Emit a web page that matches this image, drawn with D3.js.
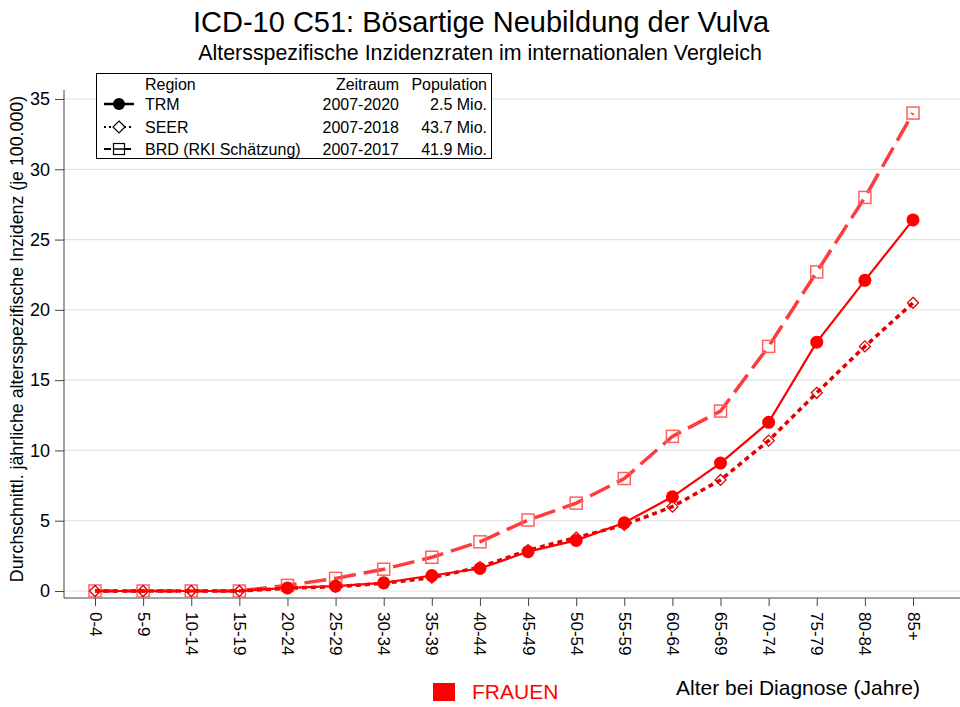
<!DOCTYPE html>
<html>
<head>
<meta charset="utf-8">
<script src="https://cdn.jsdelivr.net/npm/d3@7"></script>
<style>
  body { margin: 0; background: #fff; }
  svg { font-family: "Liberation Sans", Arial, sans-serif; }
</style>
</head>
<body>
<svg id="chart" width="960" height="707"></svg>
<script>
// data
var ageGroups = ["0-4","5-9","10-14","15-19","20-24","25-29","30-34","35-39","40-44",
                 "45-49","50-54","55-59","60-64","65-69","70-74","75-79","80-84","85+"];
var trmValues  = [0, 0, 0, 0, 0.22, 0.35, 0.58, 1.1, 1.6, 2.8, 3.6, 4.85, 6.7, 9.1, 12.0, 17.7, 22.1, 26.4];
var seerValues = [0, 0, 0, 0, 0.2, 0.3, 0.55, 0.95, 1.7, 2.9, 3.8, 4.7, 6.0, 7.9, 10.7, 14.1, 17.4, 20.5];
var brdValues  = [0, 0, 0, 0, 0.4, 0.9, 1.55, 2.4, 3.5, 5.05, 6.25, 8.0, 11.0, 12.8, 17.4, 22.7, 28.0, 34.0];
var yTicks = [0, 5, 10, 15, 20, 25, 30, 35];
var legendRows = [
  {region: "TRM", zeitraum: "2007-2020", population: "2.5 Mio."},
  {region: "SEER", zeitraum: "2007-2018", population: "43.7 Mio."},
  {region: "BRD (RKI Schätzung)", zeitraum: "2007-2017", population: "41.9 Mio."}
];

var svg = d3.select("#chart");

//scales
var x = d3.scalePoint().domain(ageGroups).range([95, 913]);
var y = d3.scaleLinear().domain([0, 35]).range([591, 99]);

//titles
svg.append("text").attr("x", 481).attr("y", 32).attr("text-anchor", "middle")
  .attr("font-size", 29).text("ICD-10 C51: Bösartige Neubildung der Vulva");
svg.append("text").attr("x", 480).attr("y", 60).attr("text-anchor", "middle")
  .attr("font-size", 21.4).text("Altersspezifische Inzidenzraten im internationalen Vergleich");

//grid lines
svg.append("g").selectAll("line").data(yTicks).enter().append("line")
  .attr("x1", 64).attr("x2", 960)
  .attr("y1", function(d){ return y(d); }).attr("y2", function(d){ return y(d); })
  .attr("stroke", "#e3e3e3").attr("stroke-width", 1.2);

//y axis
var yAxis = svg.append("g").attr("transform", "translate(64,0)")
  .call(d3.axisLeft(y).tickValues(yTicks).tickSize(9).tickPadding(5));
yAxis.select(".domain").attr("d", "M0,90V598").attr("stroke", "#444");
yAxis.selectAll(".tick line").attr("stroke", "#444");
yAxis.selectAll(".tick text").attr("font-size", 18).attr("fill", "#000")
  .attr("font-family", "Liberation Sans, Arial, sans-serif");

//x axis
var xAxis = svg.append("g").attr("transform", "translate(0,598)")
  .call(d3.axisBottom(x).tickSize(8).tickPadding(0));
xAxis.select(".domain").attr("d", "M64,0H960").attr("stroke", "#444");
xAxis.selectAll(".tick line").attr("stroke", "#444");
xAxis.selectAll(".tick text")
  .attr("font-size", 17).attr("fill", "#000")
  .attr("font-family", "Liberation Sans, Arial, sans-serif")
  .attr("text-anchor", "start").attr("dy", null).attr("y", 0)
  .attr("transform", "translate(-6,14) rotate(90)");

//y label
svg.append("text").attr("transform", "translate(23,339) rotate(-90)")
  .attr("text-anchor", "middle").attr("font-size", 17.8)
  .text("Durchschnittl. jährliche altersspezifische Inzidenz (je 100.000)");

//x label
svg.append("text").attr("x", 920).attr("y", 695).attr("text-anchor", "end")
  .attr("font-size", 21).text("Alter bei Diagnose (Jahre)");
svg.append("rect").attr("x", 433).attr("y", 683).attr("width", 22).attr("height", 18).attr("fill", "#ff0000");
svg.append("text").attr("x", 472).attr("y", 699).attr("font-size", 21).attr("fill", "#ff0000").text("FRAUEN");

var line = d3.line()
  .x(function(d, i){ return x(ageGroups[i]); })
  .y(function(d){ return y(d); });

//BRD
svg.append("path").datum(brdValues).attr("d", line).attr("fill", "none")
  .attr("stroke", "#ff3b3b").attr("stroke-width", 3.5).attr("stroke-dasharray", "22,8");
svg.append("g").selectAll("rect").data(brdValues).enter().append("rect")
  .attr("x", function(d, i){ return x(ageGroups[i]) - 6; })
  .attr("y", function(d){ return y(d) - 6; })
  .attr("width", 12).attr("height", 12)
  .attr("fill", "none").attr("stroke", "#ff6060").attr("stroke-width", 1.5);

//SEER
svg.append("path").datum(seerValues).attr("d", line).attr("fill", "none")
  .attr("stroke", "#e00000").attr("stroke-width", 3.5).attr("stroke-dasharray", "5,4");
svg.append("g").selectAll("path").data(seerValues).enter().append("path")
  .attr("d", function(d, i){
    var cx = x(ageGroups[i]), cy = y(d);
    return "M" + cx + "," + (cy - 5.5) + "L" + (cx + 5.5) + "," + cy + "L" + cx + "," + (cy + 5.5) + "L" + (cx - 5.5) + "," + cy + "Z";
  })
  .attr("fill", "none").attr("stroke", "#e00000").attr("stroke-width", 1.3);

//TRM
svg.append("path").datum(trmValues).attr("d", line).attr("fill", "none")
  .attr("stroke", "#ff0000").attr("stroke-width", 2.2);
svg.append("g").selectAll("circle").data(trmValues.slice(4)).enter().append("circle")
  .attr("cx", function(d, i){ return x(ageGroups[i + 4]); })
  .attr("cy", function(d){ return y(d); })
  .attr("r", 6.5).attr("fill", "#ff0000");

//legend
var lg = svg.append("g");
lg.append("rect").attr("x", 96.5).attr("y", 73.5).attr("width", 395).attr("height", 85)
  .attr("fill", "#fff").attr("stroke", "#000").attr("stroke-width", 1);
lg.append("text").attr("x", 145).attr("y", 90).attr("font-size", 16).text("Region");
lg.append("text").attr("x", 399).attr("y", 90).attr("font-size", 16).attr("text-anchor", "end").text("Zeitraum");
lg.append("text").attr("x", 487).attr("y", 90).attr("font-size", 16).attr("text-anchor", "end").text("Population");

var rowY = [104, 127, 149];
var dashes = [null, "2,3", "7,3"];
legendRows.forEach(function(r, i){
  var cy = rowY[i];
  lg.append("line").attr("x1", 104).attr("x2", 134).attr("y1", cy).attr("y2", cy)
    .attr("stroke", "#000").attr("stroke-width", i === 0 ? 2.5 : 2)
    .attr("stroke-dasharray", dashes[i]);
  if (i === 0) {
    lg.append("circle").attr("cx", 119).attr("cy", cy).attr("r", 6).attr("fill", "#000");
  } else if (i === 1) {
    lg.append("path").attr("d", "M119," + (cy - 6) + "L125," + cy + "L119," + (cy + 6) + "L113," + cy + "Z")
      .attr("fill", "#fff").attr("stroke", "#000").attr("stroke-width", 1.2);
  } else {
    lg.append("rect").attr("x", 113.5).attr("y", cy - 5.5).attr("width", 11).attr("height", 11)
      .attr("fill", "#fff").attr("stroke", "#000").attr("stroke-width", 1.2);
    lg.append("line").attr("x1", 113).attr("x2", 125).attr("y1", cy).attr("y2", cy)
      .attr("stroke", "#000").attr("stroke-width", 1.5);
  }
  lg.append("text").attr("x", 145).attr("y", cy + 6).attr("font-size", 16).text(r.region);
  lg.append("text").attr("x", 399).attr("y", cy + 6).attr("font-size", 16).attr("text-anchor", "end").text(r.zeitraum);
  lg.append("text").attr("x", 487).attr("y", cy + 6).attr("font-size", 16).attr("text-anchor", "end").text(r.population);
});
</script>
</body>
</html>
